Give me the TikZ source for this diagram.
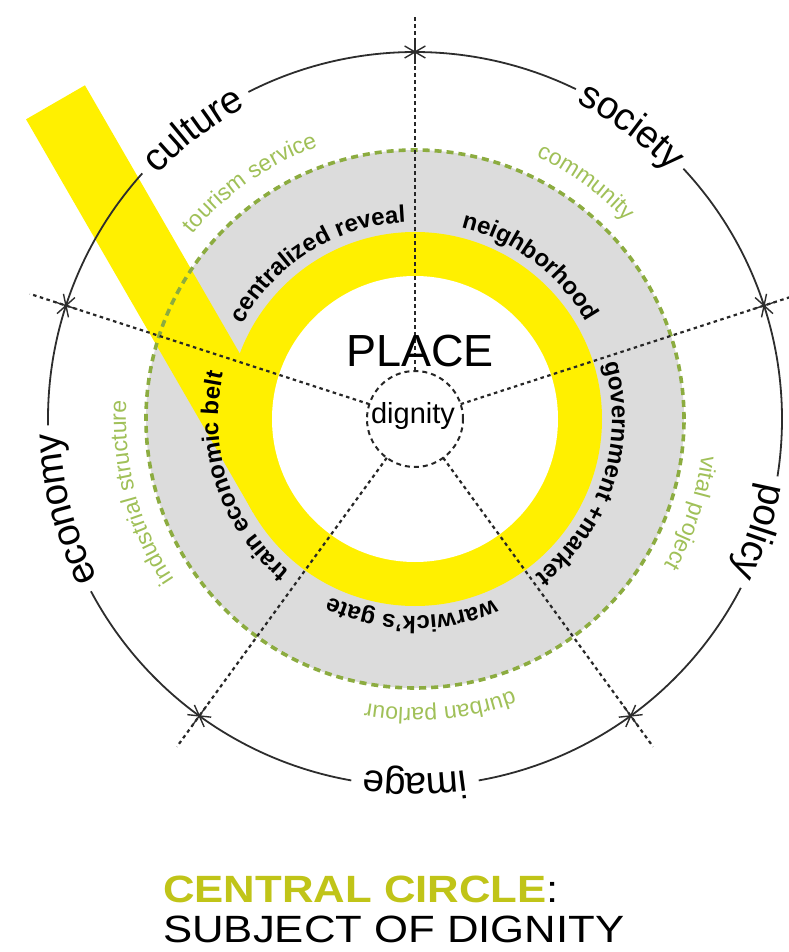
\documentclass[tikz,border=0pt]{standalone}
\usepackage{fontspec}
\setmainfont{Liberation Sans}
\usetikzlibrary{decorations.text}
\definecolor{ringyellow}{RGB}{255,240,0}
\definecolor{bandgray}{RGB}{220,220,220}
\definecolor{dashgreen}{RGB}{140,172,64}
\definecolor{labelgreen}{RGB}{160,192,88}
\definecolor{titleyellow}{RGB}{192,196,24}
\definecolor{linegray}{RGB}{45,45,45}
\newcommand\outerfnt{\fontsize{38.5}{42}\selectfont}
\newcommand\innerfnt{\fontsize{24}{28}\selectfont\bfseries}
\newcommand\greenfnt{\fontsize{23}{26}\selectfont}
% #1 centre angle, #2 radius, #3 raise, #4 colour, #5 format, #6 text
\newcommand\arclabel[6]{%
  \path[decorate,decoration={text along path,text align=center,raise=#3,
    text color=#4,text={|#5|#6}}]
    (#1+50:#2) arc[start angle=#1+50,end angle=#1-50,radius=#2];}
\begin{document}
\begin{tikzpicture}[x=1pt,y=1pt,
  outerline/.style={draw=linegray,line width=1.8pt},
  starline/.style={draw=linegray,line width=1.4pt},
  radialline/.style={draw=black!85,line width=2.2pt,dash pattern=on 3.5pt off 3.5pt},
  dignityline/.style={draw=black!85,line width=2pt,dash pattern=on 5pt off 4pt},
  greendash/.style={draw=dashgreen,line width=3.6pt,dash pattern=on 7pt off 5pt},
  titlefont/.style={font=\fontsize{38}{42}\selectfont,anchor=base west,inner sep=0pt}]
\useasboundingbox (-415,-533) rectangle (373,419);
\coordinate (c) at (0,0);
% gray annulus
\fill[bandgray] (c) circle[radius=269];
% yellow band
\begin{scope}[rotate=210]
  \fill[ringyellow] (119,-454) rectangle (187,0);
\end{scope}
% yellow ring
\fill[ringyellow] (c) circle[radius=187];
\fill[white] (c) circle[radius=143];
% green dashed circle
\draw[greendash] (c) circle[radius=269];
% outer circle with gaps for labels
\draw[outerline] (64:367) arc[start angle=64,end angle=117,radius=367];
\draw[outerline] (138:367) arc[start angle=138,end angle=181,radius=367];
\draw[outerline] (208:367) arc[start angle=208,end angle=260,radius=367];
\draw[outerline] (280:367) arc[start angle=280,end angle=332.6,radius=367];
\draw[outerline] (-9:367) arc[start angle=-9,end angle=43,radius=367];
% radial dashed lines and stars
\foreach \a in {90,162,234,306,18}{
  \draw[radialline] (\a:48) -- (\a:405);
  \foreach \b in {0,60,120}
    \draw[starline] (\a:367) ++(\a+\b:12) -- ++(\a+\b+180:24);
}
% dignity circle
\draw[dignityline] (c) circle[radius=48];
% outer labels
\arclabel{127.5}{367}{-12pt}{black}{\outerfnt}{culture}
\arclabel{53.5}{367}{-12pt}{black}{\outerfnt}{society}
\arclabel{-18.2}{367}{-15pt}{black}{\outerfnt}{policy}
\arclabel{-90}{367}{-12pt}{black}{\outerfnt}{image}
\arclabel{194.5}{367}{-12pt}{black}{\outerfnt}{economy}
% green labels
\arclabel{124.9}{289}{0pt}{labelgreen}{\greenfnt}{tourism service}
\arclabel{54.2}{289}{0pt}{labelgreen}{\greenfnt}{community}
\arclabel{-18.8}{289}{0pt}{labelgreen}{\greenfnt}{vital project}
\arclabel{-85}{289}{0pt}{labelgreen}{\greenfnt}{durban parlour}
\arclabel{195}{289}{0pt}{labelgreen}{\greenfnt}{industrial structure}
% inner bold labels
\arclabel{122}{197}{0pt}{black}{\innerfnt}{centralized reveal}
\arclabel{53}{197}{0pt}{black}{\innerfnt}{neighborhood}
\arclabel{-18}{197}{0pt}{black}{\innerfnt}{government +market}
\arclabel{-91}{197}{0pt}{black}{\innerfnt}{warwick's  gate}
\arclabel{198.5}{197}{0pt}{black}{\innerfnt}{train  economic belt}
% centre texts
\node[font=\fontsize{45}{48}\selectfont,inner sep=0pt] (place) at (5,68) {PLACE};
\node[font=\fontsize{29}{32}\selectfont,inner sep=0pt] (dignity) at (-2,2.5) {dignity};
% title
\node[titlefont] (title1) at (-252,-483)
  {\scalebox{1.15}[1]{\bfseries\color{titleyellow}CENTRAL CIRCLE\color{black}\mdseries:}};
\node[titlefont] (title2) at (-252,-523)
  {\scalebox{1.15}[1]{SUBJECT OF DIGNITY}};
\end{tikzpicture}
\end{document}
